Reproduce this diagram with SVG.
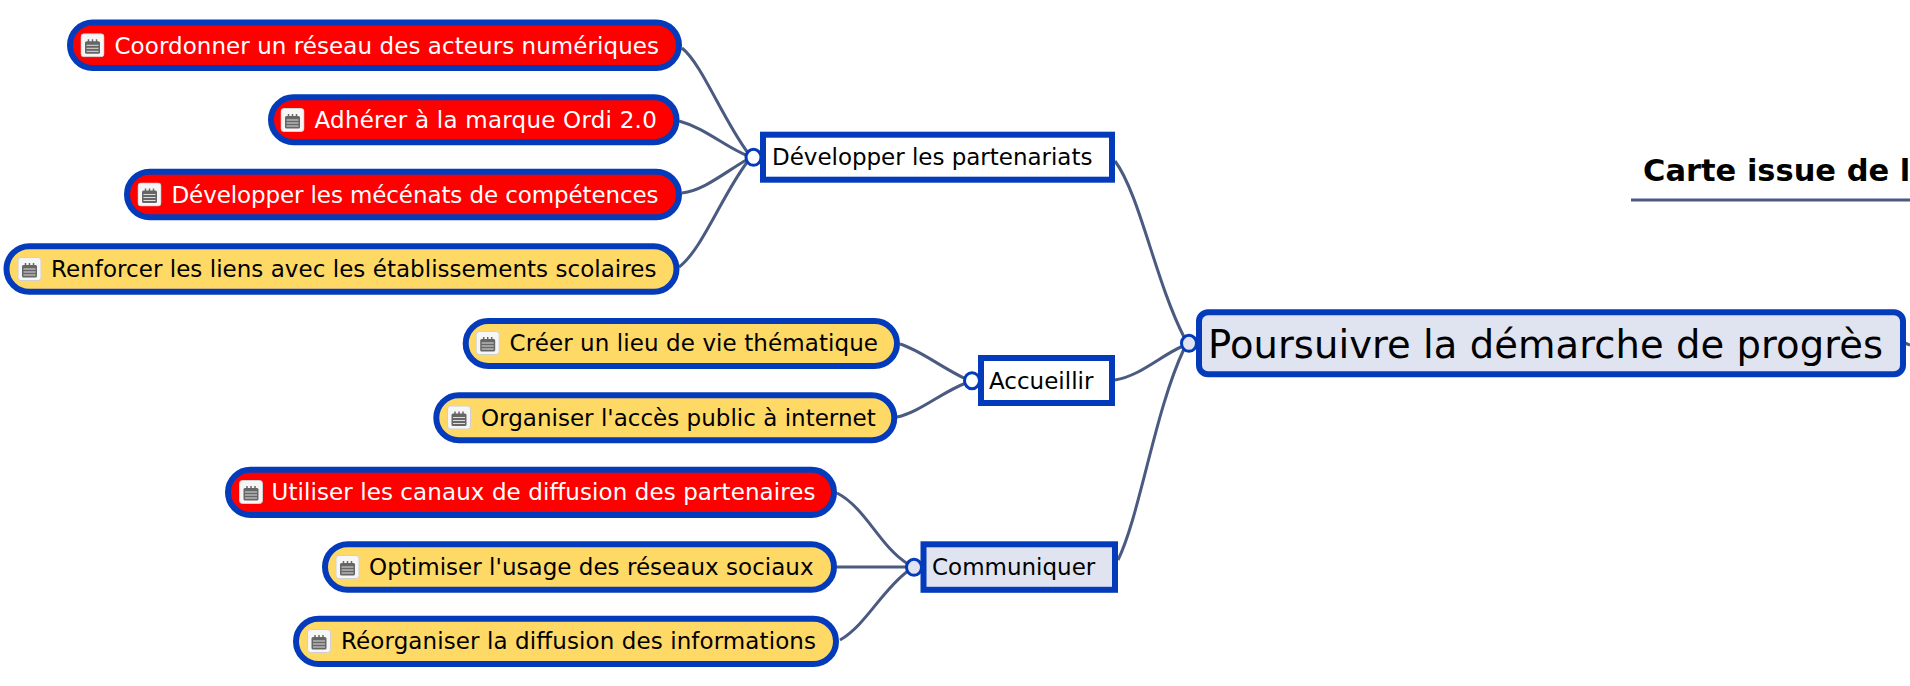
<svg xmlns="http://www.w3.org/2000/svg" width="1910" height="686" viewBox="0 0 1910 686">
<style>
text{font-family:"DejaVu Sans",sans-serif;font-size:23px;fill:#000}
.w{fill:#fff}
.p{stroke:#043bbb;stroke-width:6}
.r{fill:#f00}.y{fill:#ffd966}.t{fill:#fff}.b{fill:#e0e4f0}
.c{stroke:#043bbb;stroke-width:3}
#connectors path{fill:none;stroke:#4a5a80;stroke-width:3}
</style>
<defs>
<symbol id="note" width="24" height="24" viewBox="0 0 24 24">
<rect x=".5" y=".5" width="23" height="23" rx="3" fill="#f6f6f6" stroke="#d0d0d0"/>
<rect x="4.500" y="8" width="15" height="12.500" rx="1.500" fill="#666"/>
<path d="M8 6v4M12 6v4M16 6v4" stroke="#666" stroke-width="1.500"/>
<path d="M6 12h12M6 15h12M6 18h12" stroke="#ddd" stroke-width="1"/>
</symbol>
</defs>
<g id="connectors">
<path d="M682 48C702 64 722 118 748 153"/>
<path d="M679 121C705 128 725 147 748 156"/>
<path d="M682 193C705 190 725 172 748 159"/>
<path d="M679 267C702 250 722 195 748 161"/>
<path d="M900 344C920 350 942 368 966 379"/>
<path d="M897 417C920 412 942 392 966 383"/>
<path d="M837 493C866 508 880 547 908 564"/>
<path d="M837 567H908"/>
<path d="M840 640C866 625 882 590 908 571"/>
<path d="M1115 161C1140 195 1155 280 1184 337"/>
<path d="M1115 380C1140 376 1160 356 1183 346"/>
<path d="M1118 560C1140 515 1155 410 1184 349"/>
<path d="M1905 343L1910 345"/>
<path d="M1631 200H1910"/>
</g>
<g id="title"><text x="1643" y="181" style="font-size:30.500px;font-weight:bold">Carte issue de l</text></g>
<g id="root"><rect class="p b" x="1199" y="312.300" width="704" height="62" rx="9"/><text x="1208" y="358" textLength="675" style="font-size:38.500px">Poursuivre la démarche de progrès</text><ellipse class="c b" cx="1189" cy="343.300" rx="7.500" ry="8"/></g>
<g id="dev"><rect class="p t" x="763" y="134.700" width="349" height="45"/><text x="772" y="165" textLength="320.400">Développer les partenariats</text><ellipse class="c t" cx="753.500" cy="157.300" rx="7.500" ry="8"/></g>
<g id="acc"><rect class="p t" x="981" y="358" width="131" height="45"/><text x="989" y="389">Accueillir</text><ellipse class="c t" cx="972" cy="380.700" rx="7.500" ry="8"/></g>
<g id="com"><rect class="p b" x="923.500" y="544.300" width="191.500" height="45.500"/><text x="932" y="575">Communiquer</text><ellipse class="c b" cx="914" cy="567.300" rx="7.500" ry="8"/></g>
<g id="n1"><rect class="p r" x="70" y="22.500" width="609" height="45.500" rx="22.700"/><use href="#note" x="80.500" y="33.300"/><text class="w" x="114.500" y="53.500" textLength="544.500">Coordonner un réseau des acteurs numériques</text></g>
<g id="n2"><rect class="p r" x="271" y="97.300" width="405.500" height="45" rx="22.500"/><use href="#note" x="280.500" y="108"/><text class="w" x="314.500" y="128" textLength="342.300">Adhérer à la marque Ordi 2.0</text></g>
<g id="n3"><rect class="p r" x="127" y="171.700" width="552" height="45.500" rx="22.700"/><use href="#note" x="137.500" y="182.500"/><text class="w" x="171.500" y="202.500" textLength="487">Développer les mécénats de compétences</text></g>
<g id="n4"><rect class="p y" x="6.500" y="246.300" width="670" height="45.500" rx="22.700"/><use href="#note" x="17.500" y="257"/><text x="51" y="277" textLength="605.400">Renforcer les liens avec les établissements scolaires</text></g>
<g id="n5"><rect class="p y" x="465.700" y="321" width="431.300" height="45" rx="22.500"/><use href="#note" x="475.700" y="331"/><text x="509.500" y="351" textLength="368.500">Créer un lieu de vie thématique</text></g>
<g id="n6"><rect class="p y" x="436.300" y="395.300" width="458" height="45" rx="22.500"/><use href="#note" x="447" y="405.500"/><text x="481" y="425.500" textLength="394.700">Organiser l'accès public à internet</text></g>
<g id="n7"><rect class="p r" x="228" y="469.700" width="606" height="45.300" rx="22.600"/><use href="#note" x="239" y="480"/><text class="w" x="271.500" y="500" textLength="544">Utiliser les canaux de diffusion des partenaires</text></g>
<g id="n8"><rect class="p y" x="325" y="544.300" width="509" height="45.500" rx="22.700"/><use href="#note" x="335.500" y="555"/><text x="369" y="575" textLength="444.600">Optimiser l'usage des réseaux sociaux</text></g>
<g id="n9"><rect class="p y" x="296" y="618.700" width="540" height="45.300" rx="22.600"/><use href="#note" x="307" y="629"/><text x="341" y="649" textLength="475">Réorganiser la diffusion des informations</text></g>
</svg>
